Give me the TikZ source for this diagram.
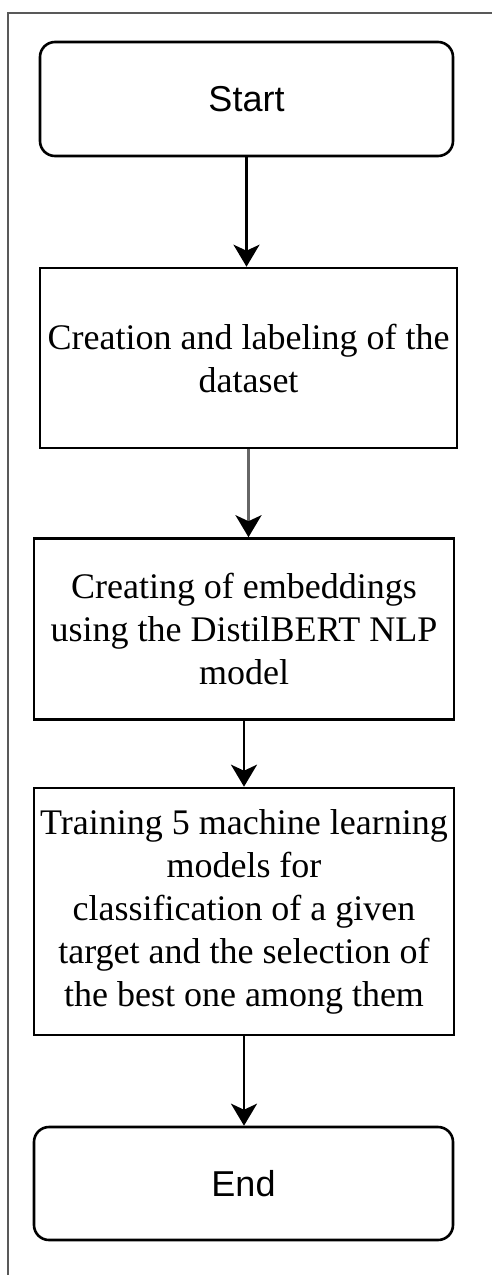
\documentclass[tikz,border=0pt]{standalone}
\usepackage{fontspec}
\setmainfont{Liberation Serif}
\setsansfont{Liberation Sans}
\usepackage{tikz}
\usetikzlibrary{arrows.meta}

\begin{document}
\begin{tikzpicture}[x=0.5pt,y=-0.5pt]
\tikzstyle{term} = [draw, line width=1.3pt, rounded corners=7.5pt, minimum height=57pt,
  font=\sffamily\fontsize{18}{21.5}\selectfont]
\tikzstyle{proc} = [draw, line width=1.3pt, align=center, inner sep=2pt,
  font=\fontsize{18}{21.5}\selectfont]
\tikzstyle{flow} = [line width=1.3pt, -{Stealth[length=11pt,width=13pt,inset=3pt]}]

\useasboundingbox (0,0) rectangle (492,1275);
\draw[black!65, line width=0.7pt] (8,1275) -- (8,13) -- (492,13);

\node[term, minimum width=206.5pt] (start) at (246.5,99) {Start};
\node[proc, minimum width=208.5pt, minimum height=90pt] (data) at (248.5,358)
  {Creation and labeling of the\\dataset};
\node[proc, minimum width=210pt, minimum height=90.5pt] (embed) at (244,629)
  {Creating of embeddings\\using the DistilBERT NLP\\model};
\node[proc, minimum width=210pt, minimum height=123.5pt] (train) at (244,911.5)
  {Training 5 machine learning\\models for\\classification of a given\\target and the selection of\\the best one among them};
\node[term, minimum width=209.5pt, minimum height=56.5pt] (end) at (243.5,1183.5) {End};

\draw[flow] (start.south) -- (start.south |- data.north);
\draw[flow, draw=black!60, -{Stealth[length=11pt,width=13pt,inset=3pt,black]}] (data.south) -- (data.south |- embed.north);
\draw[flow] (embed.south) -- (embed.south |- train.north);
\draw[flow] (train.south) -- (train.south |- end.north);
\end{tikzpicture}
\end{document}
